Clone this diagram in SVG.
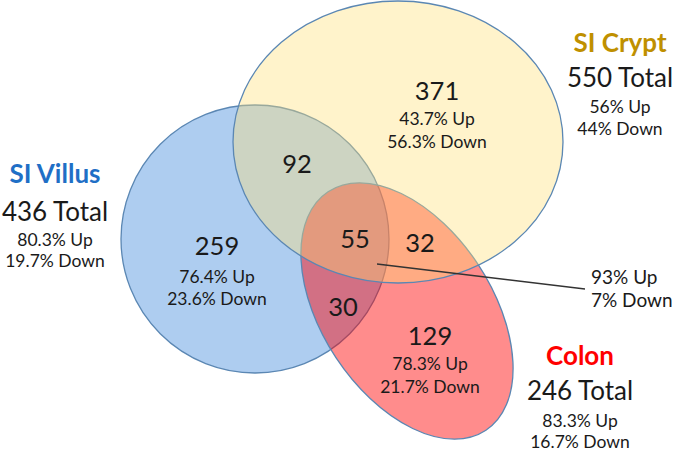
<svg xmlns="http://www.w3.org/2000/svg" width="677" height="453" viewBox="0 0 677 453">
<style>
text{font-family:Lato,"Liberation Sans",sans-serif;fill:#1a1a1a;text-anchor:middle}
.set{stroke:#5b87b3;stroke-width:1.3}
.hd{font-weight:bold;font-size:26px}
.tot{font-size:26px}
.num{font-size:25.5px}
.sm{font-size:17.5px}
.co{font-size:19px;text-anchor:start}
</style>
<rect width="677" height="453" fill="#ffffff"/>
<g id="villus">
<circle class="set" cx="255" cy="239" r="134" fill="#aecdf0"/>
</g>
<g id="colon">
<ellipse class="set" cx="407" cy="311" rx="143" ry="85" transform="rotate(56.5 407 311)" fill="#ff0000" fill-opacity="0.45"/>
</g>
<g id="crypt">
<ellipse class="set" cx="398" cy="142" rx="165" ry="141" fill="#ffdf76" fill-opacity="0.38"/>
</g>
<g id="connectors">
<line x1="377" y1="264" x2="585" y2="289" stroke="#333333" stroke-width="1.4"/>
</g>
<g id="villus-label">
<text class="hd" x="55" y="183" style="fill:#1f6fc6">SI Villus</text>
<text class="tot" x="55" y="221">436 Total</text>
<text class="sm" x="55" y="246">80.3% Up</text>
<text class="sm" x="55" y="267">19.7% Down</text>
</g>
<g id="crypt-label">
<text class="hd" x="620" y="52" style="fill:#bf9000">SI Crypt</text>
<text class="tot" x="620" y="87">550 Total</text>
<text class="sm" x="620" y="113">56% Up</text>
<text class="sm" x="620" y="135">44% Down</text>
</g>
<g id="colon-label">
<text class="hd" x="580" y="365" style="fill:#ff0000">Colon</text>
<text class="tot" x="580" y="400">246 Total</text>
<text class="sm" x="580" y="427">83.3% Up</text>
<text class="sm" x="580" y="448">16.7% Down</text>
</g>
<g id="crypt-only">
<text class="num" x="437" y="100">371</text>
<text class="sm" x="437" y="125">43.7% Up</text>
<text class="sm" x="437" y="148">56.3% Down</text>
</g>
<g id="villus-crypt">
<text class="num" x="297" y="173">92</text>
</g>
<g id="villus-only">
<text class="num" x="217" y="255">259</text>
<text class="sm" x="217" y="283">76.4% Up</text>
<text class="sm" x="217" y="305">23.6% Down</text>
</g>
<g id="all-three">
<text class="num" x="355" y="248">55</text>
</g>
<g id="crypt-colon">
<text class="num" x="420" y="252">32</text>
</g>
<g id="villus-colon">
<text class="num" x="343" y="316">30</text>
</g>
<g id="colon-only">
<text class="num" x="430" y="345">129</text>
<text class="sm" x="430" y="370">78.3% Up</text>
<text class="sm" x="430" y="393">21.7% Down</text>
</g>
<g id="all-three-label">
<text class="co" x="591" y="284">93% Up</text>
<text class="co" x="591" y="307">7% Down</text>
</g>
</svg>
